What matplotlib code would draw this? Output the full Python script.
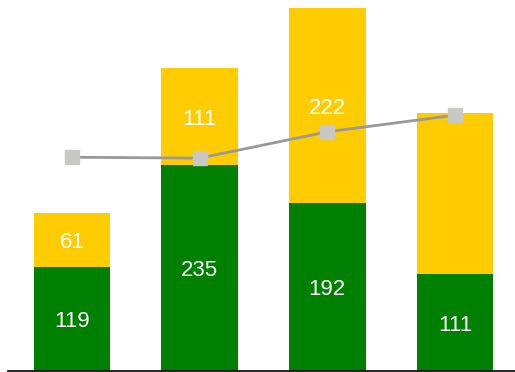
import matplotlib
matplotlib.use('Agg')
import matplotlib.pyplot as plt

categories = ['A', 'B', 'C', 'D']
green_vals = [119, 235, 192, 111]
yellow_vals = [61, 111, 222, 183]
green_labels = ['119', '235', '192', '111']
yellow_labels = ['61', '111', '222', '']
line_vals = [244, 243, 273, 292]

plt.rcParams['font.family'] = ['Liberation Sans', 'DejaVu Sans']

fig = plt.figure(figsize=(5.15, 3.72), dpi=100)
ax = fig.add_axes([8 / 515, 1 / 372, 507 / 515, 371 / 372])

x = list(range(len(categories)))
width = 0.6
ax.bar(x, green_vals, width, color='#008000', zorder=2)
ax.bar(x, yellow_vals, width, bottom=green_vals, color='#FFCC00', zorder=2)

# value labels in the middle of each segment (nudged down a little)
for i in x:
    if green_labels[i]:
        ax.annotate(green_labels[i], (i, green_vals[i] / 2), xytext=(0, -2),
                    textcoords='offset points', ha='center', va='center',
                    color='white', fontsize=16, zorder=4)
    if yellow_labels[i]:
        ax.annotate(yellow_labels[i], (i, green_vals[i] + yellow_vals[i] / 2),
                    xytext=(0, -2), textcoords='offset points', ha='center',
                    va='center', color='white', fontsize=16, zorder=4)

ax.plot(x, line_vals, color='#999999', linewidth=2, marker='s', markersize=10,
        markerfacecolor='#C8C8C4', markeredgecolor='#C8C8C4', zorder=3)

ax.set_xlim(-0.5, 3.47)
ax.set_ylim(0, 423.5)

# Only the bottom spine is visible
for s in ['top', 'right', 'left']:
    ax.spines[s].set_visible(False)
ax.spines['bottom'].set_linewidth(1.2)
ax.spines['bottom'].set_color('black')
ax.set_xticks([])
ax.set_yticks([])

fig.savefig('out.png', dpi=100)
